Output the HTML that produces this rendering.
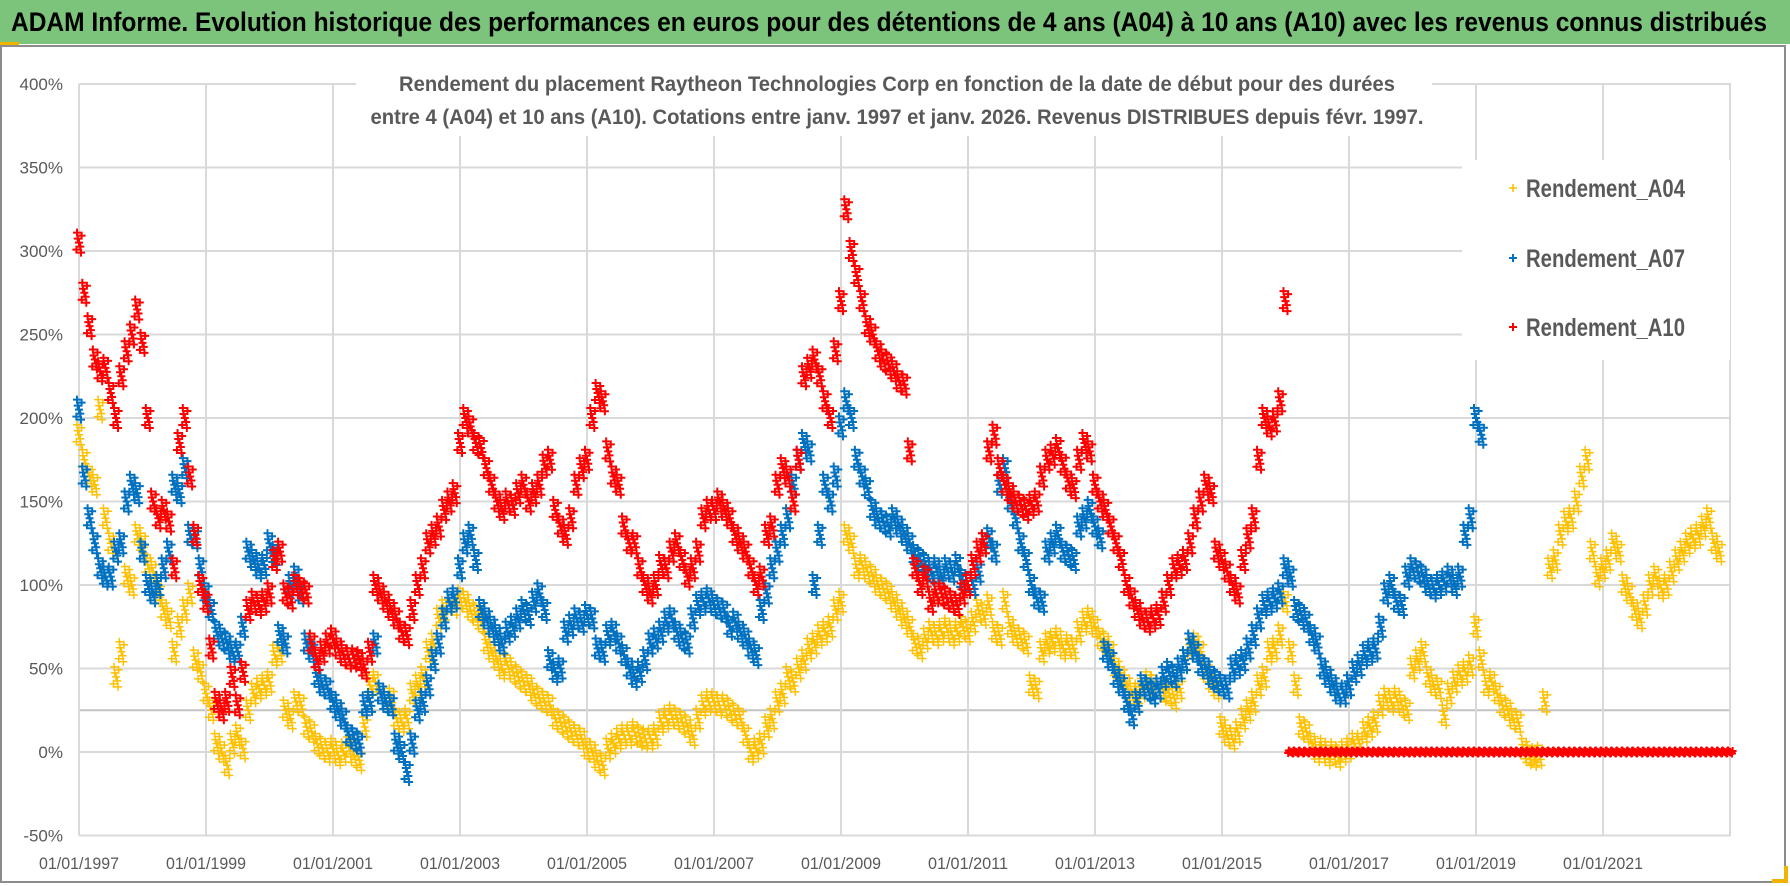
<!DOCTYPE html>
<html><head><meta charset="utf-8"><style>
html,body{margin:0;padding:0;background:#fff;}
svg{display:block;font-family:"Liberation Sans",sans-serif;}
</style></head><body>
<svg id="chart" width="1790" height="886" viewBox="0 0 1790 886" xmlns="http://www.w3.org/2000/svg">
<rect x="0" y="0" width="1790" height="886" fill="#fff"/>
<rect x="0" y="0" width="1790" height="44" fill="#7cc47c"/>
<rect x="0" y="42" width="19" height="3" fill="#f0b400"/>
<text x="11" y="31" font-size="27" font-weight="bold" fill="#000" textLength="1756" lengthAdjust="spacingAndGlyphs">ADAM Informe. Evolution historique des performances en euros pour des détentions de 4 ans (A04) à 10 ans (A10) avec les revenus connus distribués</text>
<rect x="1" y="46" width="1784" height="836" fill="none" stroke="#8c8c8c" stroke-width="2"/>
<path d="M1772 881 H1786 V866" stroke="#f0b400" stroke-width="4" fill="none"/>
<g id="grid"></g>
<g id="yticks"></g>
<g id="xticks"></g>
<rect x="356" y="60" width="1076" height="76" fill="#fff"/>
<text x="897" y="91" text-anchor="middle" font-size="21" font-weight="bold" fill="#595959" textLength="996" lengthAdjust="spacingAndGlyphs">Rendement du placement Raytheon Technologies Corp en fonction de la date de début pour des durées</text>
<text x="897" y="124" text-anchor="middle" font-size="21" font-weight="bold" fill="#595959" textLength="1053" lengthAdjust="spacingAndGlyphs">entre 4 (A04) et 10 ans (A10). Cotations entre janv. 1997 et janv. 2026. Revenus DISTRIBUES depuis févr. 1997.</text>
<g id="series"></g>
<g>
<rect x="1462" y="160" width="268" height="200" fill="#fff"/>
<g><path d="M1509 188h8M1513 184v8" stroke="#FFC000" stroke-width="1.6"/><text x="1526" y="197" font-size="25" font-weight="bold" fill="#595959" textLength="159" lengthAdjust="spacingAndGlyphs">Rendement_A04</text></g>
<g><path d="M1509 258h8M1513 254v8" stroke="#0070C0" stroke-width="2"/><text x="1526" y="267" font-size="25" font-weight="bold" fill="#595959" textLength="159" lengthAdjust="spacingAndGlyphs">Rendement_A07</text></g>
<g><path d="M1509 327h8M1513 323v8" stroke="#FF0000" stroke-width="2"/><text x="1526" y="336" font-size="25" font-weight="bold" fill="#595959" textLength="159" lengthAdjust="spacingAndGlyphs">Rendement_A10</text></g>
</g>
</svg>
<script>
// ---- data (monthly, starting Jan 1997) ----
const startYear = 1997;
const yTicks = [-50,0,50,100,150,200,250,300,350,400];
const xTickYears = [1997,1999,2001,2003,2005,2007,2009,2011,2013,2015,2017,2019,2021];
const xTickLabels = ["01/01/1997","01/01/1999","01/01/2001","01/01/2003","01/01/2005","01/01/2007","01/01/2009","01/01/2011","01/01/2013","01/01/2015","01/01/2017","01/01/2019","01/01/2021"];
const seriesNames = ["Rendement_A04","Rendement_A07","Rendement_A10"];
const a04 = [
190,175,165,160,205,140,125,45,60,105,100,130,
125,112,108,95,85,80,60,75,85,95,55,48,
35,25,5,0,-8,5,10,2,25,35,38,40,
42,58,60,25,20,30,28,15,12,5,2,0,
2,-2,0,3,-2,-5,15,40,42,35,30,32,
20,18,20,35,40,45,60,65,80,85,90,88,
92,90,85,82,78,65,60,55,50,52,48,45,
42,40,35,32,30,28,20,18,15,12,10,8,
2,0,-5,-8,2,5,8,10,10,12,9,8,
8,10,18,20,22,20,18,15,10,20,28,30,
30,28,28,25,22,20,10,0,2,5,15,20,
30,35,45,42,50,55,62,65,70,72,75,85,
90,130,125,110,112,108,105,100,98,95,90,85,
80,75,65,62,68,72,70,72,74,70,72,75,
72,78,85,82,88,72,70,90,75,70,68,65,
40,38,60,65,66,68,62,64,62,72,78,80,
75,68,65,60,50,45,40,35,35,38,42,40,
38,36,35,32,38,55,62,65,60,48,42,38,
15,10,8,12,20,25,30,40,45,60,62,70,
90,60,40,15,12,5,0,2,-2,0,-3,0,
2,5,5,12,15,18,28,32,30,32,28,25,
50,55,60,45,40,38,22,35,42,46,48,52,
75,55,40,42,35,28,25,20,18,2,-2,-3,
-2,30,110,115,130,138,140,150,165,175,120,105,
110,115,125,120,100,95,85,80,88,100,105,98,
100,108,115,120,125,128,130,135,140,125,120];
const a07 = [
205,165,140,125,110,105,105,120,125,150,160,155,
120,100,95,100,110,120,160,155,170,130,128,110,
95,85,72,68,65,60,60,75,120,115,110,112,
125,118,70,65,100,105,95,65,60,45,40,38,
30,25,20,10,8,5,28,30,65,35,30,28,
5,0,-12,5,25,30,40,55,65,80,90,92,
110,125,130,115,85,80,75,70,65,72,75,80,
85,82,90,95,85,55,48,50,72,76,80,78,
82,80,62,60,70,72,65,58,50,45,48,55,
65,68,72,78,80,72,68,65,80,88,90,92,
88,86,84,75,78,72,68,62,58,85,95,110,
120,130,140,160,175,185,180,100,130,160,150,165,
195,210,200,175,165,158,145,140,138,135,140,135,
130,125,118,115,112,108,110,105,110,108,112,103,
100,100,108,125,128,120,160,170,150,140,125,115,
100,92,90,120,125,130,120,118,115,135,140,145,
135,128,60,55,45,40,30,22,30,40,38,35,
38,45,48,45,50,55,65,60,52,50,45,42,
40,38,50,52,55,62,70,80,88,90,92,95,
110,105,85,82,78,70,65,50,45,40,35,35,
40,48,52,58,60,62,75,95,100,90,88,105,
110,108,105,100,98,100,102,105,100,105,130,140,
200,190];
const a10 = [
305,275,255,235,228,230,215,200,225,240,250,265,
245,200,150,140,145,138,110,185,200,165,130,100,
90,62,30,25,30,45,28,48,85,90,88,90,
95,115,120,95,92,100,98,95,65,55,60,65,
68,62,58,56,56,55,50,60,100,95,90,85,
80,72,70,85,100,110,125,130,135,145,150,155,
185,200,195,185,182,170,160,150,145,150,148,155,
160,150,155,160,172,175,145,135,130,140,160,170,
175,200,215,210,180,165,160,135,125,125,110,100,
95,100,112,110,120,125,115,105,110,120,140,145,
145,150,145,140,130,125,120,110,100,105,130,135,
160,170,165,150,175,225,230,235,225,210,200,240,
270,325,300,285,270,255,250,240,235,232,228,222,
220,180,110,100,105,90,95,95,92,90,88,95,
100,112,120,125,180,190,170,160,155,150,148,145,
148,150,165,175,178,182,172,162,158,175,185,180,
160,150,145,135,125,115,100,92,85,80,78,80,
82,90,100,110,112,115,125,140,150,160,155,120,
115,108,100,95,115,128,140,175,200,195,198,210,
270,0,0,0,0,0,0,0,0,0,0,0,
0,0,0,0,0,0,0,0,0,0,0,0,
0,0,0,0,0,0,0,0,0,0,0,0,
0,0,0,0,0,0,0,0,0,0,0,0,
0,0,0,0,0,0,0,0,0,0,0,0,
0,0,0,0,0,0,0,0,0,0,0,0,
0,0,0,0,0,0,0,0,0,0,0,0,0];

// ---- axes ----
const PL = 79, PR = 1731, Y0 = 752, PX_PER_YEAR = 63.5, PX_PER_PCT = 83.5/50;
function xScale(year){ return PL + (year - 1997) * PX_PER_YEAR; }
function yScale(v){ return Y0 - v * PX_PER_PCT; }
const NS = "http://www.w3.org/2000/svg";
function mk(tag, attrs, parent){ const e = document.createElementNS(NS, tag); for (const k in attrs) e.setAttribute(k, attrs[k]); parent.appendChild(e); return e; }

const grid = document.getElementById('grid');
yTicks.forEach(v => {
  const l = mk('line', {x1: PL, x2: PR, y1: yScale(v), y2: yScale(v), stroke: '#d9d9d9', 'stroke-width': 2}, grid);
  
  
});
const l25 = mk('line', {x1: PL, x2: PR, y1: yScale(25), y2: yScale(25), stroke: '#c4c4c4', 'stroke-width': 2}, grid);


xTickYears.concat([2023]).forEach(yr => {
  const l = mk('line', {x1: xScale(yr), x2: xScale(yr), y1: yScale(400), y2: yScale(-50), stroke: '#d9d9d9', 'stroke-width': 2}, grid);
  
  
});
const yt = document.getElementById('yticks');
yTicks.forEach(v => {
  const t = mk('text', {x: 63, y: yScale(v) + 6, 'text-anchor': 'end', 'font-size': 17, fill: '#595959'}, yt);
  t.textContent = v + '%';
  
  
});
const xt = document.getElementById('xticks');
xTickYears.forEach((yr, i) => {
  const t = mk('text', {x: xScale(yr), y: 869, 'text-anchor': 'middle', 'font-size': 17, fill: '#595959', textLength: 80, lengthAdjust: 'spacingAndGlyphs'}, xt);
  t.textContent = xTickLabels[i];
  
  
});

// ---- series ----
const cluster = [[0,0],[2.6,-7],[-2.6,7],[1.3,4],[-1.3,-4],[2,10],[-2,-10]];
const sg = document.getElementById('series');
function drawSeries(vals, color, sw, name, flat){
  const g = mk('g', {}, sg);
  
  
  vals.forEach((v, i) => {
    const cx = xScale(startYear + i / 12), cy = yScale(v);
    let d = '';
    cluster.forEach(o => {
      const x = cx + o[0], y = cy + (v === 0 && flat ? o[1] * 0.15 : o[1]);
      d += 'M' + (x - 4) + ' ' + y + 'h8M' + x + ' ' + (y - 4) + 'v8';
    });
    const p = mk('path', {d: d, stroke: color, 'stroke-width': sw, fill: 'none'}, g);
    
    
  });
}
drawSeries(a04, '#FFC000', 1.5, 'series-a04', false);
drawSeries(a07, '#0070C0', 2, 'series-a07', false);
drawSeries(a10, '#FF0000', 2, 'series-a10', true);
</script>
</body></html>
